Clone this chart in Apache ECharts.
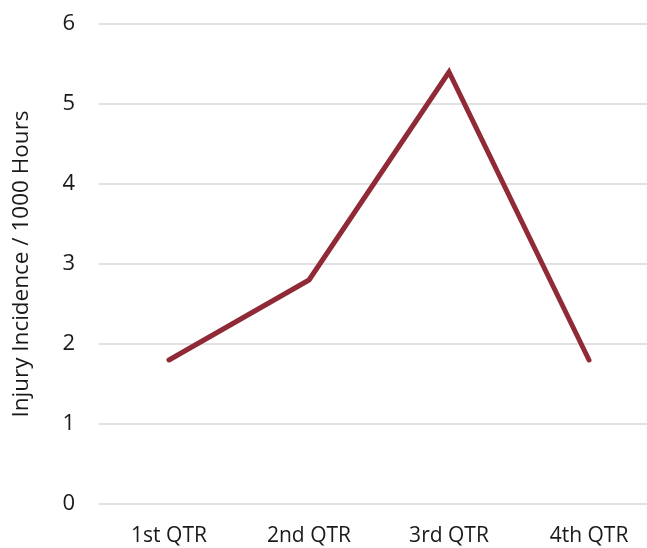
<!DOCTYPE html>
<html>
<head>
<meta charset="utf-8">
<script src="https://cdn.jsdelivr.net/npm/echarts@6/dist/echarts.min.js"></script>
<style>
  html, body { margin: 0; padding: 0; background: #fff; }
  #chart { width: 647px; height: 548px; }
</style>
</head>
<body>
<div id="chart"></div>
<script>
// Quarterly injury incidence per 1000 hours
const quarters = ['1st QTR', '2nd QTR', '3rd QTR', '4th QTR'];
const incidence = [1.8, 2.8, 5.4, 1.8];
const yTicks = [0, 1, 2, 3, 4, 5, 6];

const FONT = '"Open Sans", "Noto Sans", sans-serif';
const chart = echarts.init(document.getElementById('chart'), null, { renderer: 'canvas' });

chart.setOption({
  animation: false,
  backgroundColor: '#ffffff',
  // plot area runs slightly past the right edge of the canvas
  grid: { left: 99, width: 560, top: 24, height: 480, containLabel: false, outerBoundsMode: 'none' },
  xAxis: {
    type: 'category',
    data: quarters,
    boundaryGap: true,
    axisLine: { show: false },
    axisTick: { show: false },
    axisLabel: { color: '#1a1a1a', fontFamily: FONT, fontSize: 21, margin: 22 }
  },
  yAxis: {
    type: 'value',
    min: yTicks[0],
    max: yTicks[yTicks.length - 1],
    interval: 1,
    name: 'Injury Incidence / 1000 Hours',
    nameLocation: 'middle',
    nameGap: 66,
    nameTextStyle: { color: '#1a1a1a', fontFamily: FONT, fontSize: 22.5 },
    axisLine: { show: false },
    axisTick: { show: false },
    axisLabel: { color: '#1a1a1a', fontFamily: FONT, fontSize: 22, margin: 24 },
    splitLine: { lineStyle: { color: '#d9d9d9', width: 1.5 } }
  },
  series: [{
    type: 'line',
    data: incidence,
    symbol: 'none',
    lineStyle: { color: '#8f2a36', width: 5, cap: 'round', join: 'miter' },
    itemStyle: { color: '#8f2a36' }
  }]
});
</script>
</body>
</html>
